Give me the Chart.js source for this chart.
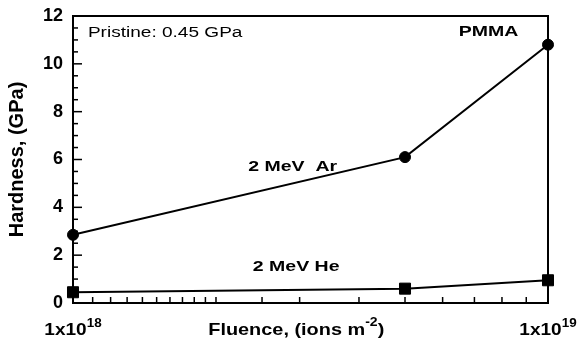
<!DOCTYPE html>
<html>
<head>
<meta charset="utf-8">
<script src="https://cdn.jsdelivr.net/npm/chart.js@4/dist/chart.umd.min.js"></script>
<style>
  body { margin: 0; background: #fff; }
</style>
</head>
<body>
<canvas id="grafico" width="585" height="345"></canvas>
<script>
// Dados (dureza do PMMA irradiado)
const fluencia = [1e18, 5e18, 1e19];
const durezaAr = [2.85, 6.1, 10.8];
const durezaHe = [0.45, 0.6, 0.95];
const rotulosX = [[1e18, '18'], [1e19, '19']];
const anotacoes = [
    { texto: 'Pristine: 0.45 GPa', x: 1.075e18, y: 11.3, negrito: false, alinhar: 'left' },
    { texto: 'PMMA', x: 7.5e18, y: 11.35, negrito: true, alinhar: 'center' },
    { texto: '2 MeV  Ar', x: 2.9e18, y: 5.7, negrito: true, alinhar: 'center' },
    { texto: '2 MeV He', x: 2.95e18, y: 1.5, negrito: true, alinhar: 'center' }
];

const FONTE = '"Liberation Sans", Arial, Helvetica, sans-serif';

function pontos(ys) {
    return fluencia.map((f, i) => ({ x: f, y: ys[i] }));
}

// texto um pouco esticado na horizontal, como no original
function textoEsticado(ctx, partes, x, y, alinhar, esticar) {
    let total = 0;
    partes.forEach(p => { ctx.font = p.font; total += ctx.measureText(p.t).width; });
    let x0 = alinhar === 'left' ? 0 : -total / 2;
    ctx.save();
    ctx.translate(x, y);
    ctx.scale(esticar, 1);
    ctx.textAlign = 'left';
    partes.forEach(p => {
        ctx.font = p.font;
        ctx.fillText(p.t, x0, p.dy || 0);
        x0 += ctx.measureText(p.t).width;
    });
    ctx.restore();
}

// Moldura, marcas internas e textos
const moldura = {
    id: 'moldura',
    afterDraw(chart) {
        const ctx = chart.ctx;
        const area = chart.chartArea;
        const sx = chart.scales.x;
        const sy = chart.scales.y;
        ctx.save();
        ctx.strokeStyle = '#000';
        ctx.lineWidth = 2;
        ctx.strokeRect(area.left, area.top, area.right - area.left, area.bottom - area.top);

        // marcas do eixo y (para dentro)
        ctx.lineWidth = 1.5;
        for (let v = 0; v <= 12; v += 0.5) {
            const py = sy.getPixelForValue(v);
            const len = v % 2 === 0 ? 9 : 5;
            ctx.beginPath();
            ctx.moveTo(area.left, py);
            ctx.lineTo(area.left + len, py);
            ctx.stroke();
        }
        // marcas do eixo x (log)
        sx.ticks.forEach(t => {
            const px = sx.getPixelForValue(t.value);
            ctx.beginPath();
            ctx.moveTo(px, area.bottom);
            ctx.lineTo(px, area.bottom - 6);
            ctx.stroke();
        });

        ctx.fillStyle = '#000';
        ctx.textBaseline = 'alphabetic';
        const grande = 'bold 17px ' + FONTE;
        const pequena = 'bold 12px ' + FONTE;

        // rótulos do eixo x com expoente
        rotulosX.forEach(([v, exp]) => {
            textoEsticado(ctx, [
                { t: '1x10', font: grande },
                { t: exp, font: pequena, dy: -8 }
            ], sx.getPixelForValue(v), 335, 'center', 1.12);
        });

        // título do eixo x
        textoEsticado(ctx, [
            { t: 'Fluence, (ions m', font: grande },
            { t: '-2', font: pequena, dy: -9 },
            { t: ')', font: grande }
        ], area.left + (area.right - area.left) * 0.47, 335, 'center', 1.17);

        // anotações
        ctx.textBaseline = 'middle';
        anotacoes.forEach(a => {
            const f = (a.negrito ? 'bold 15px ' : '14px ') + FONTE;
            textoEsticado(ctx, [{ t: a.texto, font: f }],
                sx.getPixelForValue(a.x), sy.getPixelForValue(a.y), a.alinhar, a.negrito ? 1.3 : 1.36);
        });
        ctx.restore();
    }
};

const grafico = document.getElementById('grafico').getContext('2d');
new Chart(grafico, {
    type: 'line',
    data: {
        datasets: [
            {
                label: '2 MeV Ar',
                data: pontos(durezaAr),
                borderColor: '#000',
                backgroundColor: '#000',
                borderWidth: 2,
                pointStyle: 'circle',
                pointRadius: 5.5,
                pointBorderWidth: 1,
                tension: 0,
                clip: false
            },
            {
                label: '2 MeV He',
                data: pontos(durezaHe),
                borderColor: '#000',
                backgroundColor: '#000',
                borderWidth: 2,
                pointStyle: 'rect',
                pointRadius: 7.8,
                pointBorderWidth: 1,
                tension: 0,
                clip: false
            }
        ]
    },
    options: {
        responsive: false,
        animation: false,
        layout: { padding: { top: 16, right: 37, left: 0, bottom: 0 } },
        plugins: {
            legend: { display: false },
            tooltip: { enabled: false }
        },
        scales: {
            x: {
                type: 'logarithmic',
                min: 1e18,
                max: 1e19,
                grid: { display: false },
                border: { display: false },
                ticks: { display: false },
                afterFit(scale) { scale.height = 42; }
            },
            y: {
                min: 0,
                max: 12,
                grid: { display: false },
                border: { display: false },
                ticks: {
                    stepSize: 2,
                    color: '#000',
                    padding: 2,
                    font: { family: FONTE, size: 18, weight: 'bold' }
                },
                title: {
                    display: true,
                    text: 'Hardness, (GPa)',
                    color: '#000',
                    padding: { top: 5, bottom: 0 },
                    font: { family: FONTE, size: 20, weight: 'bold' }
                },
                afterFit(scale) { scale.width = 73; }
            }
        }
    },
    plugins: [moldura]
});
</script>
</body>
</html>
